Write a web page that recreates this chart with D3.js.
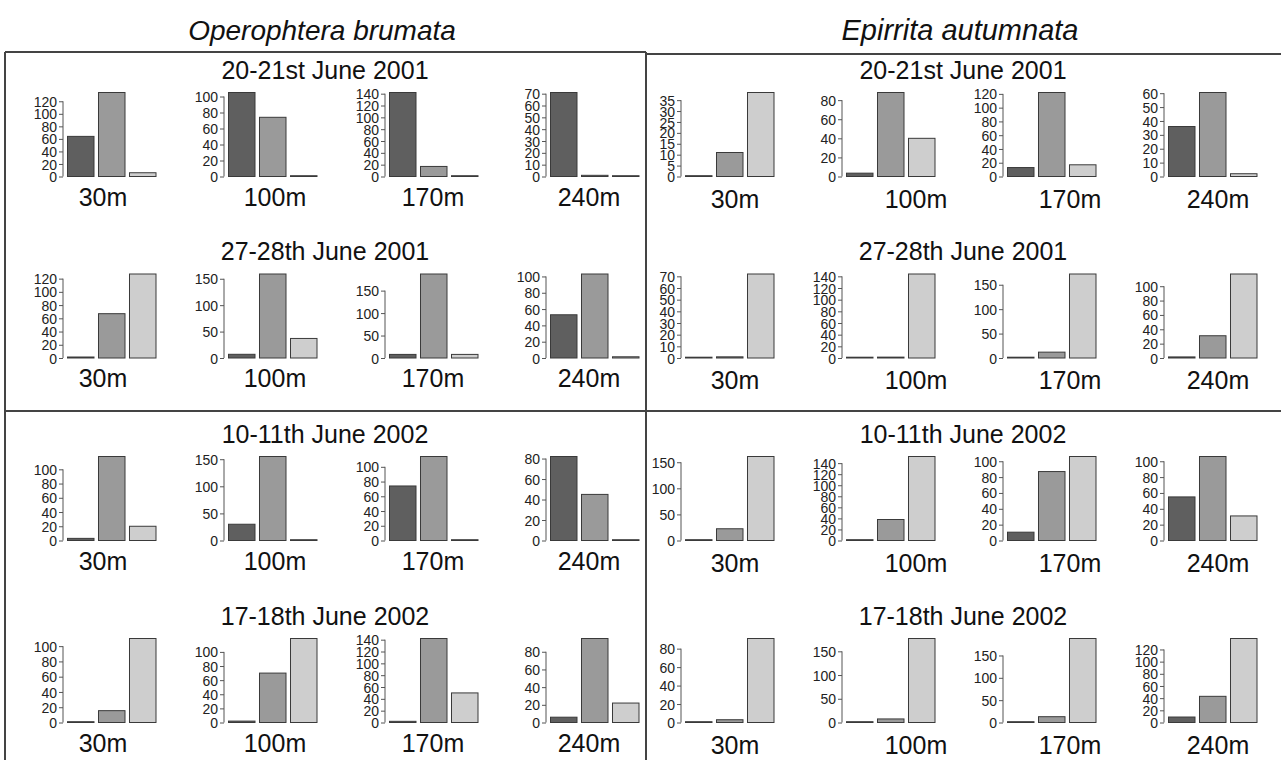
<!DOCTYPE html>
<html>
<head>
<meta charset="utf-8">
<script src="https://cdn.jsdelivr.net/npm/d3@7"></script>
<style>
  body { margin: 0; background: #fff; }
  svg { display: block; font-family: "Liberation Sans", Arial, Helvetica, sans-serif; }
  .tick text { font-size: 14px; fill: #222; }
  .tick line, .domain { stroke: #555; }
</style>
</head>
<body>
<script>
const species = ["Operophtera brumata", "Epirrita autumnata"];
const dates = ["20-21st June 2001", "27-28th June 2001", "10-11th June 2002", "17-18th June 2002"];
const distances = ["30m", "100m", "170m", "240m"];

// counts per date, per distance: three bars each
const operophteraCounts = [
  [[64, 134, 6], [105, 74, 1], [142, 17, 1], [71, 1, 0]],
  [[1.5, 67, 127], [7, 159, 37], [8, 187, 8], [53, 103, 1.5]],
  [[3, 118, 20], [30, 155, 0], [74, 114, 0], [82, 45, 0]],
  [[0, 15.5, 110], [2, 70, 119], [2, 142, 50], [6, 95, 22]],
];
const epirritaCounts = [
  [[0, 11, 38.5], [3.5, 88, 40], [13, 122, 17], [36, 60.5, 2]],
  [[0, 1, 72], [0, 1.5, 144], [0, 12, 172], [1.5, 31, 117]],
  [[0, 22.5, 161], [0, 38, 152], [10.5, 87, 106], [55, 106, 31]],
  [[0, 3, 91], [0, 7.5, 177], [0, 13, 188], [9, 43, 138]],
];

// y tick step of each small axis
const operophteraTickSteps = [
  [20, 20, 20, 10],
  [20, 50, 50, 20],
  [20, 50, 20, 20],
  [20, 20, 20, 20],
];
const epirritaTickSteps = [
  [5, 20, 20, 10],
  [10, 20, 50, 20],
  [50, 20, 20, 20],
  [20, 50, 50, 20],
];

const barColors = ["#5f5f5f", "#9a9a9a", "#cecece"];

const width = 1281;
const height = 760;

// layout
const colAxisX = [63, 681];
const colCenter = [325, 963];
const panelStep = 161;
const rowTop = [92.5, 274, 456.5, 638.5];
const plotH = 84;
const labelDx = [
  [40, 51, 48, 43],
  [54, 74, 67, 54],
];

const counts = [operophteraCounts, epirritaCounts];
const tickSteps = [operophteraTickSteps, epirritaTickSteps];

const svg = d3
  .select("body")
  .append("svg")
  .attr("width", width)
  .attr("height", height);

svg.append("rect").attr("width", width).attr("height", height).attr("fill", "#fff");

// frame lines
const frame = svg.append("g").attr("stroke", "#444").attr("stroke-width", 2);
frame.append("line").attr("x1", 5).attr("y1", 52).attr("x2", 646).attr("y2", 52);
frame.append("line").attr("x1", 646).attr("y1", 54).attr("x2", width).attr("y2", 54);
frame.append("line").attr("x1", 5).attr("y1", 52).attr("x2", 5).attr("y2", height);
frame.append("line").attr("x1", 646).attr("y1", 52).attr("x2", 646).attr("y2", height);
frame.append("line").attr("x1", 5).attr("y1", 411).attr("x2", width).attr("y2", 411);

species.forEach((name, c) => {
  svg
    .append("text")
    .attr("x", colCenter[c] - 3)
    .attr("y", 40)
    .attr("text-anchor", "middle")
    .style("font-size", c === 0 ? "28px" : "29px")
    .style("font-style", "italic")
    .attr("fill", "#111")
    .text(name);

  dates.forEach((date, r) => {
    svg
      .append("text")
      .attr("x", colCenter[c])
      .attr("y", rowTop[r] - 14)
      .attr("text-anchor", "middle")
      .style("font-size", "25px")
      .attr("fill", "#111")
      .text(date);

    distances.forEach((dist, p) => {
      const values = counts[c][r][p];
      const axisX = colAxisX[c] + p * panelStep;
      const zeroY = rowTop[r] + plotH;

      const y = d3
        .scaleLinear()
        .domain([0, d3.max(values)])
        .range([zeroY, rowTop[r]]);

      const x = d3
        .scaleBand()
        .domain(d3.range(values.length))
        .range([axisX + 4.5, axisX + 93])
        .paddingInner(0.145);

      const panel = svg.append("g");

      // bars (zero counts still show as a flat outline)
      panel
        .selectAll("rect")
        .data(values)
        .join("rect")
        .attr("x", (d, i) => x(i))
        .attr("width", x.bandwidth())
        .attr("y", (d) => Math.min(y(d), zeroY - 0.8))
        .attr("height", (d) => Math.max(zeroY - y(d), 0.8))
        .attr("fill", (d, i) => barColors[i])
        .attr("stroke", "#3a3a3a")
        .attr("stroke-width", 1);

      const ticks = d3.range(0, d3.max(values) + 1e-9, tickSteps[c][r][p]);
      const axis = panel
        .append("g")
        .attr("transform", `translate(${axisX},0)`)
        .call(
          d3
            .axisLeft(y)
            .tickValues(ticks)
            .tickSize(4)
            .tickSizeOuter(0)
            .tickPadding(2)
        );
      // R-style axis line: only from first to last tick
      axis.select(".domain").attr("d", `M0,${y(0)}V${y(ticks[ticks.length - 1])}`);
      axis.selectAll(".tick text").attr("dy", "0.36em");

      panel
        .append("text")
        .attr("x", axisX + labelDx[c][p])
        .attr("y", zeroY + (c === 0 ? 29 : 31))
        .attr("text-anchor", "middle")
        .style("font-size", "25px")
        .attr("fill", "#111")
        .text(dist);
    });
  });
});
</script>
</body>
</html>
